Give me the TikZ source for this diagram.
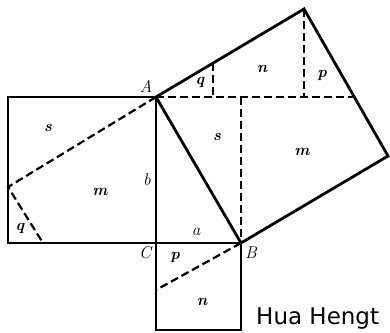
\documentclass[tikz,border=0pt]{standalone}
\usepackage{fontspec}
\usepackage{tikz}
\usetikzlibrary{calc}
\newfontfamily\capfont{DejaVu Sans}
\tikzset{
  side/.style={line width=2.8pt, draw=black, line join=miter},
  cut/.style={line width=2.2pt, draw=black, dashed, dash pattern=on 8pt off 4pt},
  piece/.style={font=\itshape\bfseries\fontsize{16}{18}\selectfont, inner sep=1pt},
  vertex/.style={font=\itshape\fontsize{17}{19}\selectfont, inner sep=1pt},
  caption/.style={font=\capfont\fontsize{23}{27}\selectfont, anchor=base west, inner sep=0pt},
}

\begin{document}
\begin{tikzpicture}[x=1pt,y=-1pt]
  \useasboundingbox (0,0) rectangle (390,332);

  % triangle corners
  \coordinate (A) at (156,97);
  \coordinate (C) at (156,243);
  \coordinate (B) at (241,243);
  % square on the hypotenuse
  \coordinate (E) at (304,9);
  \coordinate (D) at (388,156);
  % square on b
  \coordinate (bTL) at (8,97);
  \coordinate (bBL) at (8,243);
  % square on a
  \coordinate (aBL) at (156,330);
  \coordinate (aBR) at (241,330);

  % cut points
  \coordinate (bL) at (8,187);
  \coordinate (bB) at (43,243);
  \coordinate (aL) at (156,290);
  \coordinate (hR) at (355,97);
  \coordinate (hQ) at (213,63);
  \coordinate (hQb) at (213,97);
  \coordinate (hEb) at (304,97);
  \coordinate (hB) at (241,97);

  % sides
  \draw[side] (bTL) -- (A) -- (C) -- (bBL) -- cycle;
  \draw[side] (C) -- (B);
  \draw[side] (C) -- (aBL) -- (aBR) -- (B);
  \draw[side] (A) -- (E) -- (D) -- (B) -- cycle;

  % cuts
  \draw[cut] (A) -- (bL) -- (bB);
  \draw[cut] (B) -- (aL);
  \draw[cut] (A) -- (hR);
  \draw[cut] (hQ) -- (hQb);
  \draw[cut] (E) -- (hEb);
  \draw[cut] (hB) -- (B);

  % vertex and side labels
  \node[vertex] (labA) at (146,86) {A};
  \node[vertex] (labC) at (145,253) {C};
  \node[vertex] (labB) at (251,253) {B};
  \node[vertex] (laba) at (196,232) {a};
  \node[vertex] (labb) at (147,180) {b};

  % pieces in the square on b
  \node[piece] (bs) at (48,128) {s};
  \node[piece] (bm) at (100,192) {m};
  \node[piece] (bq) at (20,228) {q};

  % pieces in the square on a
  \node[piece] (ap) at (175,257) {p};
  \node[piece] (an) at (202,302) {n};

  % pieces in the square on c
  \node[piece] (cq) at (200,82) {q};
  \node[piece] (cn) at (262,69) {n};
  \node[piece] (cp) at (322,75) {p};
  \node[piece] (cs) at (217,137) {s};
  \node[piece] (cm) at (302,152) {m};

  \node[caption] (name) at (256,324) {Hua Hengt};
\end{tikzpicture}
\end{document}
